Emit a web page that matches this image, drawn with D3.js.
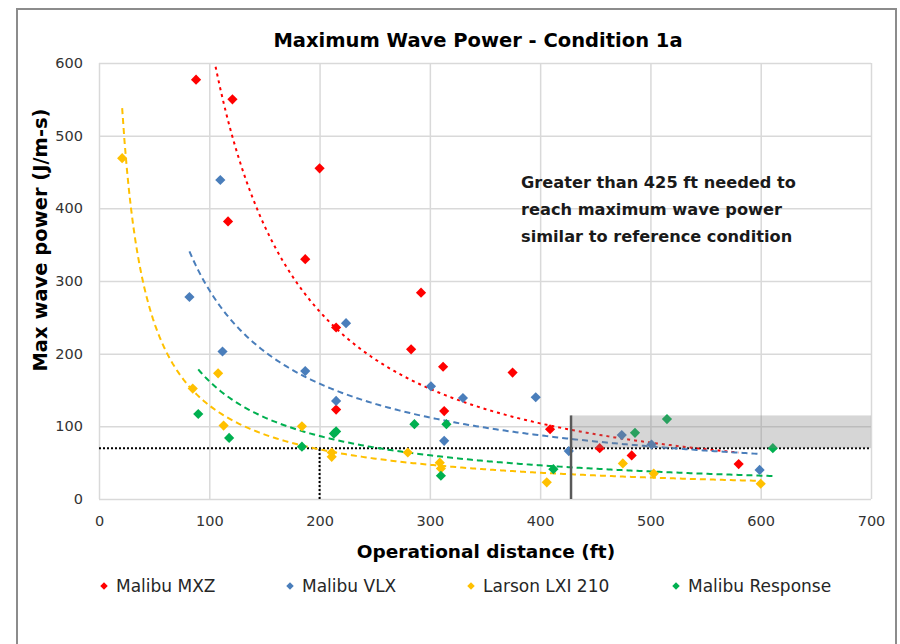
<!DOCTYPE html>
<html>
<head>
<meta charset="utf-8">
<script src="https://cdn.jsdelivr.net/npm/d3@7"></script>
<style>
    body { margin: 0; background: #fff; }
</style>
</head>
<body>
<div id="chart"></div>
<script>
const seriesNames = ["Malibu MXZ", "Malibu VLX", "Larson LXI 210", "Malibu Response"];
const seriesColors = ["#ff0000", "#4a7ebb", "#ffc000", "#00b050"];

// operational distance (ft) / max wave power (J/m-s)
const mxzDist  = [88, 121, 200, 117, 187, 215, 215, 292, 283, 312, 375, 313, 409, 454, 483, 580];
const mxzPower = [577, 550, 455, 382, 330, 236, 123, 284, 206, 182, 174, 121, 96, 70, 60, 48];
const vlxDist  = [110, 82, 112, 187, 224, 215, 301, 330, 396, 313, 426, 474, 501, 599];
const vlxPower = [439, 278, 203, 176, 242, 135, 155, 139, 140, 80, 66, 88, 75, 40];
const lxiDist  = [21, 85, 108, 113, 184, 211, 211, 280, 309, 310, 406, 475, 503, 600];
const lxiPower = [469, 152, 173, 101, 100, 64, 58, 64, 50, 42, 23, 49, 35, 21];
const respDist  = [90, 118, 184, 213, 215, 286, 315, 310, 412, 486, 515, 611];
const respPower = [117, 84, 72, 90, 93, 103, 103, 32, 41, 91, 110, 70];

// power trendlines y = a * x^b, as shown on the chart
const trendA = [266700, 14880, 8748, 10370];
const trendB = [-1.31, -0.857, -0.916, -0.903];

const xTicks = [0, 100, 200, 300, 400, 500, 600, 700];
const yTicks = [0, 100, 200, 300, 400, 500, 600];

const refPower = 70;
const refDistance = 200;
const neededDistance = 428;
const bandTop = 115;

const noteLines = ["Greater than 425 ft needed to", "reach maximum wave power", "similar to reference condition"];

const series = [
    [mxzDist, mxzPower], [vlxDist, vlxPower], [lxiDist, lxiPower], [respDist, respPower]
].map(([xs, ys], i) => ({
    name: seriesNames[i],
    color: seriesColors[i],
    points: xs.map((d, j) => ({ x: d, y: ys[j] })),
    a: trendA[i],
    b: trendB[i]
}));

const width = 900;
const height = 644;
const font = "'DejaVu Sans', sans-serif";

const x = d3.scaleLinear().domain([0, 700]).range([99, 871]);
const y = d3.scaleLinear().domain([0, 600]).range([499, 63]);

const svg = d3.select("#chart")
    .append("svg")
    .attr("width", width)
    .attr("height", height)
    .attr("font-family", font);

svg.append("rect")
    .attr("x", 17).attr("y", 9)
    .attr("width", 879).attr("height", 660)
    .attr("fill", "#fff")
    .attr("stroke", "#8c8c8c")
    .attr("stroke-width", 2);

svg.append("clipPath").attr("id", "plot")
    .append("rect")
    .attr("x", x(0)).attr("y", y(600))
    .attr("width", x(700) - x(0)).attr("height", y(0) - y(600));

// gridlines
svg.append("g")
    .attr("transform", `translate(0,${y(0)})`)
    .call(d3.axisBottom(x).tickValues(xTicks).tickSize(-(y(0) - y(600))).tickFormat(""))
    .call(g => g.select(".domain").remove())
    .call(g => g.selectAll("line").attr("stroke", "#d9d9d9").attr("stroke-width", 1.5));

svg.append("g")
    .attr("transform", `translate(${x(0)},0)`)
    .call(d3.axisLeft(y).tickValues(yTicks).tickSize(-(x(700) - x(0))).tickFormat(""))
    .call(g => g.select(".domain").remove())
    .call(g => g.selectAll("line").attr("stroke", "#d9d9d9").attr("stroke-width", 1.5));

// tick labels
svg.append("g")
    .attr("transform", `translate(0,${y(0)})`)
    .call(d3.axisBottom(x).tickValues(xTicks).tickSize(0).tickPadding(17))
    .call(g => g.select(".domain").remove())
    .call(g => g.selectAll("text").attr("font-family", font).attr("font-size", 14.5).attr("fill", "#333"));

svg.append("g")
    .attr("transform", `translate(${x(0)},0)`)
    .call(d3.axisLeft(y).tickValues(yTicks).tickSize(0).tickPadding(16))
    .call(g => g.select(".domain").remove())
    .call(g => g.selectAll("text").attr("font-family", font).attr("font-size", 14.5).attr("fill", "#333"));

// reference lines
svg.append("line")
    .attr("x1", x(0)).attr("x2", x(700))
    .attr("y1", y(refPower)).attr("y2", y(refPower))
    .attr("stroke", "#000").attr("stroke-width", 2).attr("stroke-dasharray", "2,2");

svg.append("line")
    .attr("x1", x(refDistance)).attr("x2", x(refDistance))
    .attr("y1", y(0)).attr("y2", y(refPower))
    .attr("stroke", "#000").attr("stroke-width", 2).attr("stroke-dasharray", "2,2");

// trendlines
const trendLine = d3.line().x(d => x(d[0])).y(d => y(d[1]));

svg.append("g")
    .attr("clip-path", "url(#plot)")
    .selectAll("path")
    .data(series)
    .join("path")
        .attr("fill", "none")
        .attr("stroke", d => d.color)
        .attr("stroke-width", 2)
        .attr("stroke-dasharray", (d, i) => i === 0 ? "3,4" : "6,4")
        .attr("d", d => {
            const [lo, hi] = d3.extent(d.points, p => p.x);
            const xs = d3.range(lo, hi, 2).concat([hi]);
            return trendLine(xs.map(v => [v, d.a * Math.pow(v, d.b)]));
        });

// points
const diamond = d3.symbol().type(d3.symbolSquare).size(52);

svg.append("g")
    .selectAll("g")
    .data(series)
    .join("g")
        .attr("fill", d => d.color)
    .selectAll("path")
    .data(d => d.points)
    .join("path")
        .attr("d", diamond)
        .attr("transform", d => `translate(${x(d.x)},${y(d.y)}) rotate(45)`);

// shaded target region
svg.append("rect")
    .attr("x", x(neededDistance)).attr("y", y(bandTop))
    .attr("width", x(700) - x(neededDistance))
    .attr("height", y(refPower) - y(bandTop))
    .attr("fill", "#808080")
    .attr("fill-opacity", 0.32);

svg.append("line")
    .attr("x1", x(neededDistance)).attr("x2", x(neededDistance))
    .attr("y1", y(0)).attr("y2", y(bandTop))
    .attr("stroke", "#595959").attr("stroke-width", 2.5);

// note
svg.append("g")
    .selectAll("text")
    .data(noteLines)
    .join("text")
        .attr("x", 521)
        .attr("y", (d, i) => 182 + i * 27)
        .attr("dy", "0.35em")
        .attr("font-size", 16.2)
        .attr("font-weight", "bold")
        .attr("fill", "#1a1a1a")
        .text(d => d);

// titles
svg.append("text")
    .attr("x", 478).attr("y", 40)
    .attr("dy", "0.35em")
    .attr("text-anchor", "middle")
    .attr("font-size", 19.5)
    .attr("font-weight", "bold")
    .attr("fill", "#000")
    .text("Maximum Wave Power - Condition 1a");

svg.append("text")
    .attr("x", 486).attr("y", 552)
    .attr("dy", "0.35em")
    .attr("text-anchor", "middle")
    .attr("font-size", 18.5)
    .attr("font-weight", "bold")
    .attr("fill", "#000")
    .text("Operational distance (ft)");

svg.append("text")
    .attr("transform", "translate(40,240) rotate(-90)")
    .attr("dy", "0.35em")
    .attr("text-anchor", "middle")
    .attr("font-size", 19.5)
    .attr("font-weight", "bold")
    .attr("fill", "#000")
    .text("Max wave power (J/m-s)");

// legend
const legendX = [104, 290, 471, 676];
const legendMarker = d3.symbol().type(d3.symbolSquare).size(28);

const legend = svg.append("g")
    .selectAll("g")
    .data(series)
    .join("g")
        .attr("transform", (d, i) => `translate(${legendX[i]},586)`);

legend.append("path")
    .attr("d", legendMarker)
    .attr("transform", "rotate(45)")
    .attr("fill", d => d.color);

legend.append("text")
    .attr("x", 12)
    .attr("dy", "0.35em")
    .attr("font-size", 17)
    .attr("fill", "#262626")
    .text(d => d.name);
</script>
</body>
</html>
